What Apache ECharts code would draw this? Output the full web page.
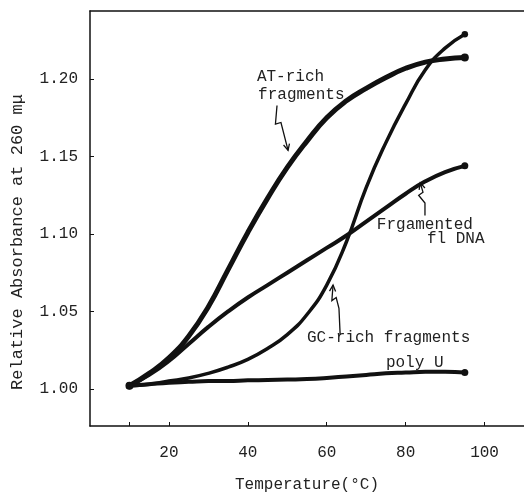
<!DOCTYPE html>
<html>
<head>
<meta charset="utf-8">
<script src="https://cdn.jsdelivr.net/npm/echarts@6/dist/echarts.min.js"></script>
<style>
  html, body { margin: 0; padding: 0; background: #fff; }
  #chart { width: 524px; height: 498px; }
</style>
</head>
<body>
<div id="chart"></div>
<script>
// temperatures (°C)
var temps = [10, 15, 20, 25, 30, 35, 40, 45, 50, 55, 60, 65, 70, 75, 80, 85, 90, 95];
// relative absorbance at 260 mμ
var atRich = [1.002, 1.010, 1.020, 1.034, 1.053, 1.077, 1.101, 1.123, 1.143, 1.160, 1.175, 1.186, 1.194, 1.201, 1.207, 1.211, 1.213, 1.214];
var f1Dna = [1.002, 1.009, 1.018, 1.029, 1.040, 1.050, 1.059, 1.067, 1.075, 1.083, 1.091, 1.099, 1.108, 1.117, 1.126, 1.134, 1.140, 1.144];
var gcRich = [1.002, 1.003, 1.005, 1.007, 1.010, 1.014, 1.019, 1.026, 1.035, 1.048, 1.067, 1.095, 1.130, 1.159, 1.184, 1.206, 1.220, 1.229];
var polyU = [1.002, 1.003, 1.004, 1.0045, 1.005, 1.005, 1.0055, 1.0057, 1.006, 1.0063, 1.007, 1.008, 1.009, 1.010, 1.0105, 1.011, 1.011, 1.0105];

var xTickLabels = [20, 40, 60, 80, 100];
var xTicks = [10, 20, 40, 60, 80, 100];
var yTickLabels = [1.00, 1.05, 1.10, 1.15, 1.20];

// annotation texts, anchored in data coords [temp, absorbance]
var notes = [
  { text: "AT-rich", at: [42.3, 1.2015] },
  { text: "fragments", at: [42.6, 1.190] },
  { text: "Frgamented", at: [72.7, 1.106] },
  { text: "fl DNA", at: [85.4, 1.097] },
  { text: "GC-rich fragments", at: [55.0, 1.033] },
  { text: "poly U", at: [75.0, 1.017] }
];
// squiggly arrows, last point is the tip
var arrows = [
  [[47.4, 1.183], [47.0, 1.171], [48.4, 1.172], [50.2, 1.154]],
  [[63.4, 1.035], [63.1, 1.052], [62.4, 1.059], [61.3, 1.057], [61.6, 1.067]],
  [[84.9, 1.112], [84.9, 1.120], [83.3, 1.125], [84.4, 1.127], [83.7, 1.133]]
];

var FONT = '"Liberation Mono", "DejaVu Sans Mono", monospace';

function pairs(vals) {
  return temps.map(function (t, i) { return [t, vals[i]]; });
}

function curve(name, vals, width) {
  return {
    name: name,
    type: "line",
    smooth: 0.5,
    data: pairs(vals),
    symbol: "circle",
    symbolSize: function (v, p) {
      return p.dataIndex === vals.length - 1 || p.dataIndex === 0 ? width + 3 : 0;
    },
    itemStyle: { color: "#111" },
    lineStyle: { color: "#111", width: width, cap: "round", join: "round" },
    emphasis: { disabled: true },
    z: 3
  };
}

var chart = echarts.init(document.getElementById("chart"));
chart.setOption({
  animation: false,
  backgroundColor: "#fff",
  grid: { left: 90, right: 0, top: 11, bottom: 65 },
  xAxis: [
    {
      type: "value",
      min: 0,
      max: 110,
      name: "Temperature(°C)",
      nameLocation: "middle",
      nameGap: 51,
      nameTextStyle: { fontFamily: FONT, fontSize: 16, color: "#222" },
      axisLine: { lineStyle: { color: "#111", width: 1.5 } },
      axisTick: { inside: true, length: 4, customValues: xTicks, lineStyle: { color: "#111" } },
      axisLabel: { customValues: xTickLabels, margin: 19, fontFamily: FONT, fontSize: 16, color: "#222" },
      splitLine: { show: false }
    },
    {
      // top border line
      type: "value",
      position: "top",
      min: 0,
      max: 110,
      axisLine: { show: true, lineStyle: { color: "#111", width: 1.5 } },
      axisTick: { show: false },
      axisLabel: { show: false },
      splitLine: { show: false }
    }
  ],
  yAxis: {
    type: "value",
    min: 0.976,
    max: 1.244,
    axisLine: { show: true, lineStyle: { color: "#111", width: 1.5 } },
    axisTick: { inside: true, length: 4, customValues: yTickLabels, lineStyle: { color: "#111" } },
    axisLabel: {
      customValues: yTickLabels,
      margin: 12,
      fontFamily: FONT,
      fontSize: 16,
      color: "#222",
      formatter: function (v) { return v.toFixed(2); }
    },
    splitLine: { show: false }
  },
  series: [
    curve("AT-rich fragments", atRich, 5),
    curve("Fragmented fl DNA", f1Dna, 4),
    curve("GC-rich fragments", gcRich, 3.5),
    curve("poly U", polyU, 4)
  ]
});

// annotations placed through the axes
function px(p) { return chart.convertToPixel({ xAxisIndex: 0, yAxisIndex: 0 }, p); }

var gfx = [];
notes.forEach(function (n) {
  var p = px(n.at);
  gfx.push({
    type: "text",
    x: p[0],
    y: p[1],
    style: { text: n.text, font: "16px " + FONT, fill: "#222", textVerticalAlign: "middle" },
    z: 10
  });
});
arrows.forEach(function (a) {
  var pts = a.map(px);
  var tip = pts[pts.length - 1], prev = pts[pts.length - 2];
  var dx = tip[0] - prev[0], dy = tip[1] - prev[1];
  var len = Math.sqrt(dx * dx + dy * dy);
  dx /= len; dy /= len;
  var head = [];
  [-0.45, 0.45].forEach(function (ang) {
    var c = Math.cos(ang), s = Math.sin(ang);
    head.push([tip[0] - 7 * (dx * c - dy * s), tip[1] - 7 * (dx * s + dy * c)]);
  });
  gfx.push({ type: "polyline", shape: { points: pts }, style: { stroke: "#111", lineWidth: 1.3, fill: null }, z: 10 });
  gfx.push({ type: "polyline", shape: { points: [head[0], tip, head[1]] }, style: { stroke: "#111", lineWidth: 1.3, fill: null }, z: 10 });
});
// y axis title
gfx.push({
  type: "text",
  x: 17,
  y: 242,
  rotation: Math.PI / 2,
  style: {
    text: "Relative Absorbance at 260 mμ",
    font: "17px " + FONT,
    fill: "#222",
    textAlign: "center",
    textVerticalAlign: "middle"
  }
});
chart.setOption({ graphic: gfx });
</script>
</body>
</html>
